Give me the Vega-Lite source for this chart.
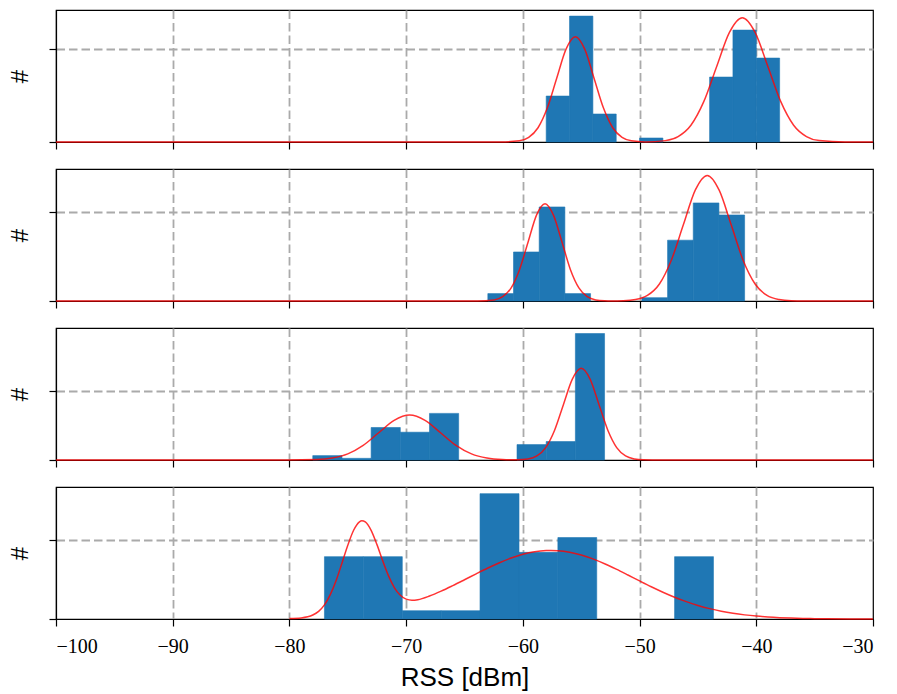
{
  "$schema": "https://vega.github.io/schema/vega-lite/v6.json",
  "padding": {"left": 7, "top": 9, "right": 4, "bottom": 4},
  "spacing": 27,
  "bounds": "flush",
  "config": {
    "view": {"stroke": "black", "strokeWidth": 1.2},
    "axis": {
      "domainColor": "black", "domainWidth": 1.2,
      "tickColor": "black", "tickSize": 7, "tickWidth": 1.2,
      "gridColor": "#aaaaaa", "gridDash": [8.5, 4], "gridWidth": 1.8,
      "zindex": 1,
      "labelFont": "Liberation Serif", "labelFontSize": 20, "labelColor": "black",
      "titleFont": "Liberation Sans", "titleFontWeight": "normal", "titleColor": "black"
    },
    "bar": {"color": "#1f77b4", "stroke": "#1f77b4", "strokeWidth": 0.6}
  },
  "datasets": {
    "bars1": [
      {"bin_start": -58, "bin_end": -56, "height": 0.496},
      {"bin_start": -56, "bin_end": -54, "height": 1.359},
      {"bin_start": -54, "bin_end": -52, "height": 0.302},
      {"bin_start": -50, "bin_end": -48, "height": 0.043},
      {"bin_start": -44, "bin_end": -42, "height": 0.701},
      {"bin_start": -42, "bin_end": -40, "height": 1.208},
      {"bin_start": -40, "bin_end": -38, "height": 0.906}
    ],
    "bars2": [
      {"bin_start": -63.0, "bin_end": -60.8, "height": 0.083},
      {"bin_start": -60.8, "bin_end": -58.6, "height": 0.549},
      {"bin_start": -58.6, "bin_end": -56.4, "height": 1.053},
      {"bin_start": -56.4, "bin_end": -54.2, "height": 0.083},
      {"bin_start": -49.8, "bin_end": -47.6, "height": 0.037},
      {"bin_start": -47.6, "bin_end": -45.4, "height": 0.681},
      {"bin_start": -45.4, "bin_end": -43.2, "height": 1.098},
      {"bin_start": -43.2, "bin_end": -41.0, "height": 0.963}
    ],
    "bars3": [
      {"bin_start": -78.0, "bin_end": -75.5, "height": 0.063},
      {"bin_start": -75.5, "bin_end": -73.0, "height": 0.024},
      {"bin_start": -73.0, "bin_end": -70.5, "height": 0.468},
      {"bin_start": -70.5, "bin_end": -68.0, "height": 0.400},
      {"bin_start": -68.0, "bin_end": -65.5, "height": 0.671},
      {"bin_start": -60.5, "bin_end": -58.0, "height": 0.222},
      {"bin_start": -58.0, "bin_end": -55.5, "height": 0.265},
      {"bin_start": -55.5, "bin_end": -53.0, "height": 1.820}
    ],
    "bars4": [
      {"bin_start": -77.0, "bin_end": -73.67, "height": 0.789},
      {"bin_start": -73.67, "bin_end": -70.33, "height": 0.789},
      {"bin_start": -70.33, "bin_end": -67.0, "height": 0.105},
      {"bin_start": -67.0, "bin_end": -63.67, "height": 0.105},
      {"bin_start": -63.67, "bin_end": -60.33, "height": 1.586},
      {"bin_start": -60.33, "bin_end": -57.0, "height": 0.843},
      {"bin_start": -57.0, "bin_end": -53.67, "height": 1.030},
      {"bin_start": -47.0, "bin_end": -43.67, "height": 0.789}
    ],
    "curve1": [
      {"x": -100, "pdf": 0}, {"x": -61.9, "pdf": 0.0003}, {"x": -60.3, "pdf": 0.0126},
      {"x": -59.5, "pdf": 0.050}, {"x": -58.7, "pdf": 0.154}, {"x": -57.9, "pdf": 0.369},
      {"x": -57.1, "pdf": 0.689}, {"x": -56.3, "pdf": 1.003}, {"x": -55.5, "pdf": 1.136},
      {"x": -54.7, "pdf": 1.003}, {"x": -53.9, "pdf": 0.689}, {"x": -53.1, "pdf": 0.369},
      {"x": -52.3, "pdf": 0.154}, {"x": -51.5, "pdf": 0.050}, {"x": -50.7, "pdf": 0.0126},
      {"x": -49.5, "pdf": 0.0004}, {"x": -47.8, "pdf": 0.0149}, {"x": -46.7, "pdf": 0.0589},
      {"x": -45.6, "pdf": 0.1814}, {"x": -44.5, "pdf": 0.4354}, {"x": -43.4, "pdf": 0.8133},
      {"x": -42.3, "pdf": 1.1834}, {"x": -41.2, "pdf": 1.341}, {"x": -40.1, "pdf": 1.1834},
      {"x": -39.0, "pdf": 0.8133}, {"x": -37.9, "pdf": 0.4354}, {"x": -36.8, "pdf": 0.1814},
      {"x": -35.7, "pdf": 0.0589}, {"x": -34.6, "pdf": 0.0149}, {"x": -32.4, "pdf": 0.0002},
      {"x": -30, "pdf": 0}
    ],
    "curve2": [
      {"x": -100, "pdf": 0}, {"x": -63.9, "pdf": 0.0003}, {"x": -62.45, "pdf": 0.0121},
      {"x": -61.73, "pdf": 0.0479}, {"x": -61.0, "pdf": 0.1475}, {"x": -60.28, "pdf": 0.3539},
      {"x": -59.55, "pdf": 0.6611}, {"x": -58.83, "pdf": 0.9619}, {"x": -58.1, "pdf": 1.09},
      {"x": -57.38, "pdf": 0.9619}, {"x": -56.65, "pdf": 0.6611}, {"x": -55.93, "pdf": 0.3539},
      {"x": -55.2, "pdf": 0.1475}, {"x": -54.48, "pdf": 0.0479}, {"x": -53.75, "pdf": 0.0121},
      {"x": -53.0, "pdf": 0.0024}, {"x": -52.4, "pdf": 0.0005}, {"x": -51.4, "pdf": 0.003},
      {"x": -50.35, "pdf": 0.0156}, {"x": -49.33, "pdf": 0.0617}, {"x": -48.3, "pdf": 0.1902},
      {"x": -47.28, "pdf": 0.4565}, {"x": -46.25, "pdf": 0.8527}, {"x": -45.23, "pdf": 1.2408},
      {"x": -44.2, "pdf": 1.406}, {"x": -43.18, "pdf": 1.2408}, {"x": -42.15, "pdf": 0.8527},
      {"x": -41.13, "pdf": 0.4565}, {"x": -40.1, "pdf": 0.1902}, {"x": -39.08, "pdf": 0.0617},
      {"x": -38.05, "pdf": 0.0156}, {"x": -37.0, "pdf": 0.0023}, {"x": -36.0, "pdf": 0.0002},
      {"x": -30, "pdf": 0}
    ],
    "curve3": [
      {"x": -100, "pdf": 0}, {"x": -80.3, "pdf": 0.0002}, {"x": -77.65, "pdf": 0.0072},
      {"x": -76.33, "pdf": 0.0284}, {"x": -75.0, "pdf": 0.0874}, {"x": -73.68, "pdf": 0.2098},
      {"x": -72.35, "pdf": 0.3918}, {"x": -71.03, "pdf": 0.5701}, {"x": -69.7, "pdf": 0.646},
      {"x": -68.38, "pdf": 0.5701}, {"x": -67.05, "pdf": 0.3918}, {"x": -65.73, "pdf": 0.2098},
      {"x": -64.4, "pdf": 0.0874}, {"x": -63.08, "pdf": 0.0284}, {"x": -61.75, "pdf": 0.0075},
      {"x": -60.5, "pdf": 0.0035}, {"x": -59.56, "pdf": 0.015}, {"x": -58.8, "pdf": 0.0579},
      {"x": -58.04, "pdf": 0.1785}, {"x": -57.28, "pdf": 0.4283}, {"x": -56.52, "pdf": 0.80},
      {"x": -55.76, "pdf": 1.164}, {"x": -55.0, "pdf": 1.319}, {"x": -54.24, "pdf": 1.164},
      {"x": -53.48, "pdf": 0.80}, {"x": -52.72, "pdf": 0.4283}, {"x": -51.96, "pdf": 0.1785},
      {"x": -51.2, "pdf": 0.0579}, {"x": -50.44, "pdf": 0.0146}, {"x": -49.68, "pdf": 0.0022},
      {"x": -48.92, "pdf": 0.0002}, {"x": -30, "pdf": 0}
    ],
    "curve4": [
      {"x": -80, "pdf": 0.006}, {"x": -79, "pdf": 0.014}, {"x": -78, "pdf": 0.050},
      {"x": -77.5, "pdf": 0.097}, {"x": -77, "pdf": 0.179}, {"x": -76.5, "pdf": 0.308},
      {"x": -76, "pdf": 0.487}, {"x": -75.5, "pdf": 0.706}, {"x": -75, "pdf": 0.933},
      {"x": -74.5, "pdf": 1.123}, {"x": -74, "pdf": 1.230}, {"x": -73.8, "pdf": 1.244},
      {"x": -73.5, "pdf": 1.229}, {"x": -73, "pdf": 1.122}, {"x": -72.5, "pdf": 0.941},
      {"x": -72, "pdf": 0.733}, {"x": -71.5, "pdf": 0.542}, {"x": -71, "pdf": 0.395},
      {"x": -70.5, "pdf": 0.300}, {"x": -70, "pdf": 0.251}, {"x": -69.5, "pdf": 0.237},
      {"x": -69, "pdf": 0.244}, {"x": -68, "pdf": 0.290}, {"x": -67, "pdf": 0.352},
      {"x": -66, "pdf": 0.4225}, {"x": -65, "pdf": 0.4964}, {"x": -64, "pdf": 0.5715},
      {"x": -63, "pdf": 0.6447}, {"x": -62, "pdf": 0.7124}, {"x": -61, "pdf": 0.7714},
      {"x": -60, "pdf": 0.8184}, {"x": -59, "pdf": 0.8508}, {"x": -58, "pdf": 0.8666},
      {"x": -57.6, "pdf": 0.868}, {"x": -57, "pdf": 0.8648}, {"x": -56, "pdf": 0.8456},
      {"x": -55, "pdf": 0.8101}, {"x": -54, "pdf": 0.7605}, {"x": -53, "pdf": 0.6994},
      {"x": -52, "pdf": 0.6303}, {"x": -51, "pdf": 0.5566}, {"x": -50, "pdf": 0.4815},
      {"x": -49, "pdf": 0.4081}, {"x": -48, "pdf": 0.339}, {"x": -47, "pdf": 0.2758},
      {"x": -46, "pdf": 0.2199}, {"x": -45, "pdf": 0.1718}, {"x": -44, "pdf": 0.1315},
      {"x": -43, "pdf": 0.0986}, {"x": -42, "pdf": 0.0725}, {"x": -41, "pdf": 0.0522},
      {"x": -40, "pdf": 0.0368}, {"x": -39, "pdf": 0.0254}, {"x": -38, "pdf": 0.0172},
      {"x": -37, "pdf": 0.0114}, {"x": -36, "pdf": 0.0075}, {"x": -35, "pdf": 0.0047},
      {"x": -34, "pdf": 0.003}, {"x": -32, "pdf": 0.001}, {"x": -30, "pdf": 0.0005}
    ]
  },
  "vconcat": [
    {
      "width": 817, "height": 132,
      "layer": [
        {
          "data": {"name": "bars1"},
          "mark": {"type": "bar"},
          "encoding": {
            "x": {"field": "bin_start", "type": "quantitative", "scale": {"domain": [-100, -30], "nice": false, "zero": false},
                  "axis": {"values": [-100, -90, -80, -70, -60, -50, -40, -30], "labels": false, "title": null,
                           "gridOpacity": {"condition": {"test": "datum.value == -100 || datum.value == -30", "value": 0}, "value": 1}}},
            "x2": {"field": "bin_end"},
            "y": {"field": "height", "type": "quantitative", "scale": {"domain": [0, 1.425], "nice": false},
                  "axis": {"values": [0, 1], "labels": false, "title": "#", "titleFontSize": 24, "titlePadding": 16,
                           "gridOpacity": {"condition": {"test": "datum.value == 0", "value": 0}, "value": 1}}},
            "y2": {"datum": 0}
          }
        },
        {
          "data": {"name": "curve1"},
          "mark": {"type": "line", "color": "red", "opacity": 0.8, "strokeWidth": 1.5, "interpolate": "monotone"},
          "encoding": {
            "x": {"field": "x", "type": "quantitative"},
            "y": {"field": "pdf", "type": "quantitative"}
          }
        }
      ]
    },
    {
      "width": 817, "height": 132,
      "layer": [
        {
          "data": {"name": "bars2"},
          "mark": {"type": "bar"},
          "encoding": {
            "x": {"field": "bin_start", "type": "quantitative", "scale": {"domain": [-100, -30], "nice": false, "zero": false},
                  "axis": {"values": [-100, -90, -80, -70, -60, -50, -40, -30], "labels": false, "title": null,
                           "gridOpacity": {"condition": {"test": "datum.value == -100 || datum.value == -30", "value": 0}, "value": 1}}},
            "x2": {"field": "bin_end"},
            "y": {"field": "height", "type": "quantitative", "scale": {"domain": [0, 1.478], "nice": false},
                  "axis": {"values": [0, 1], "labels": false, "title": "#", "titleFontSize": 24, "titlePadding": 16,
                           "gridOpacity": {"condition": {"test": "datum.value == 0", "value": 0}, "value": 1}}},
            "y2": {"datum": 0}
          }
        },
        {
          "data": {"name": "curve2"},
          "mark": {"type": "line", "color": "red", "opacity": 0.8, "strokeWidth": 1.5, "interpolate": "monotone"},
          "encoding": {
            "x": {"field": "x", "type": "quantitative"},
            "y": {"field": "pdf", "type": "quantitative"}
          }
        }
      ]
    },
    {
      "width": 817, "height": 132,
      "layer": [
        {
          "data": {"name": "bars3"},
          "mark": {"type": "bar"},
          "encoding": {
            "x": {"field": "bin_start", "type": "quantitative", "scale": {"domain": [-100, -30], "nice": false, "zero": false},
                  "axis": {"values": [-100, -90, -80, -70, -60, -50, -40, -30], "labels": false, "title": null,
                           "gridOpacity": {"condition": {"test": "datum.value == -100 || datum.value == -30", "value": 0}, "value": 1}}},
            "x2": {"field": "bin_end"},
            "y": {"field": "height", "type": "quantitative", "scale": {"domain": [0, 1.9], "nice": false},
                  "axis": {"values": [0, 1], "labels": false, "title": "#", "titleFontSize": 24, "titlePadding": 16,
                           "gridOpacity": {"condition": {"test": "datum.value == 0", "value": 0}, "value": 1}}},
            "y2": {"datum": 0}
          }
        },
        {
          "data": {"name": "curve3"},
          "mark": {"type": "line", "color": "red", "opacity": 0.8, "strokeWidth": 1.5, "interpolate": "monotone"},
          "encoding": {
            "x": {"field": "x", "type": "quantitative"},
            "y": {"field": "pdf", "type": "quantitative"}
          }
        }
      ]
    },
    {
      "width": 817, "height": 132,
      "layer": [
        {
          "data": {"name": "bars4"},
          "mark": {"type": "bar"},
          "encoding": {
            "x": {"field": "bin_start", "type": "quantitative", "scale": {"domain": [-100, -30], "nice": false, "zero": false},
                  "axis": {"values": [-100, -90, -80, -70, -60, -50, -40, -30], "labels": true, "labelPadding": 10,
                           "title": "RSS [dBm]", "titleFontSize": 26, "titlePadding": 8,
                           "gridOpacity": {"condition": {"test": "datum.value == -100 || datum.value == -30", "value": 0}, "value": 1}}},
            "x2": {"field": "bin_end"},
            "y": {"field": "height", "type": "quantitative", "scale": {"domain": [0, 1.67], "nice": false},
                  "axis": {"values": [0, 1], "labels": false, "title": "#", "titleFontSize": 24, "titlePadding": 16,
                           "gridOpacity": {"condition": {"test": "datum.value == 0", "value": 0}, "value": 1}}},
            "y2": {"datum": 0}
          }
        },
        {
          "data": {"name": "curve4"},
          "mark": {"type": "line", "color": "red", "opacity": 0.8, "strokeWidth": 1.5, "interpolate": "monotone"},
          "encoding": {
            "x": {"field": "x", "type": "quantitative"},
            "y": {"field": "pdf", "type": "quantitative"}
          }
        }
      ]
    }
  ]
}
